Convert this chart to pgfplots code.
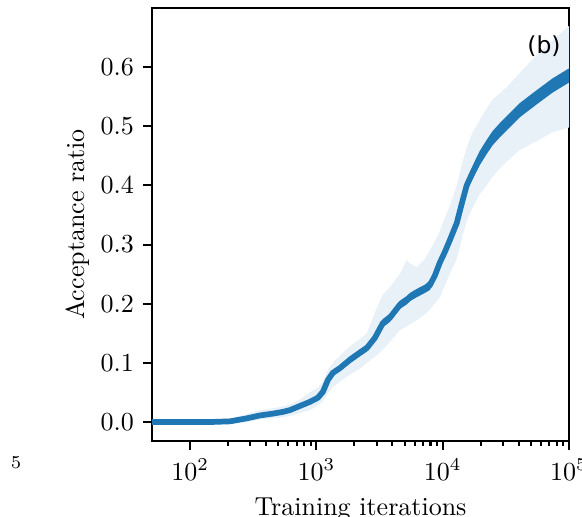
\documentclass[border=0pt]{standalone}
\usepackage{fontspec}
\usepackage{pgfplots}
\usepackage{pgfplotstable}
\pgfplotsset{compat=1.18}
\newfontfamily\dejavu{DejaVu Sans}
\definecolor{tabblue}{HTML}{1F77B4}
\definecolor{bandblue}{HTML}{E8F0F8}

% x, mean, band low, band high, spread of the noisy mean
\pgfplotstableread{
x      m      lo     hi     d
50     0.000 -0.003  0.003  0.001
100    0.000 -0.003  0.003  0.001
150    0.000 -0.003  0.004  0.001
207    0.001 -0.003  0.006  0.001
280    0.006  0.000  0.013  0.001
357    0.011  0.004  0.020  0.001
450    0.014  0.006  0.023  0.001
543    0.017  0.008  0.026  0.001
617    0.020  0.010  0.030  0.001
740    0.027  0.015  0.038  0.002
889    0.034  0.020  0.050  0.002
1028   0.041  0.028  0.058  0.003
1126   0.051  0.035  0.068  0.003
1233   0.071  0.048  0.088  0.004
1350   0.083  0.059  0.100  0.005
1534   0.091  0.068  0.112  0.005
1840   0.105  0.080  0.128  0.006
2208   0.117  0.090  0.140  0.006
2507   0.125  0.100  0.150  0.006
2900   0.142  0.110  0.185  0.006
3355   0.167  0.122  0.215  0.007
3811   0.176  0.135  0.228  0.007
4573   0.198  0.155  0.250  0.007
5200   0.206  0.162  0.274  0.007
5485   0.211  0.165  0.268  0.007
6230   0.218  0.172  0.262  0.007
7206   0.225  0.182  0.275  0.007
7894   0.231  0.190  0.290  0.008
8647   0.247  0.200  0.305  0.008
9470   0.269  0.211  0.322  0.008
10370  0.287  0.230  0.345  0.008
11360  0.307  0.250  0.365  0.009
12900  0.336  0.275  0.400  0.009
14390  0.375  0.315  0.440  0.010
15480  0.400  0.340  0.465  0.010
17270  0.422  0.362  0.490  0.011
19610  0.446  0.385  0.510  0.012
22280  0.465  0.400  0.530  0.012
24850  0.480  0.415  0.545  0.012
28220  0.493  0.428  0.556  0.012
32050  0.505  0.440  0.566  0.012
40620  0.527  0.460  0.590  0.012
55360  0.549  0.475  0.620  0.012
74060  0.569  0.490  0.645  0.012
100000 0.586  0.498  0.670  0.012
}\accdata

\begin{document}
\begin{tikzpicture}
\clip (-58.5pt,-29.2pt) rectangle (165.4pt,169.6pt);
\begin{axis}[
  at={(0,0)}, anchor=south west,
  scale only axis, width=160.4pt, height=166.5pt,
  xmode=log, xmin=50, xmax=1e5,
  ymin=-0.032, ymax=0.70,
  xtick={100,1000,10000,100000},
  ytick={0,0.1,0.2,0.3,0.4,0.5,0.6},
  yticklabel style={/pgf/number format/.cd, fixed, fixed zerofill, precision=1},
  tick pos=left, tick align=outside,
  major tick length=3.5pt, minor tick length=2pt,
  tick style={black, line width=0.8pt},
  axis line style={line width=0.8pt},
  xlabel={Training iterations},
  ylabel={Acceptance ratio},
  ylabel style={yshift=-2.5pt},
]
% light band: stack lo, then hi-lo filled
\addplot[draw=none, stack plots=y, forget plot] table[x=x, y=lo] {\accdata};
\addplot[fill=bandblue, draw=none, stack plots=y, forget plot]
  table[x=x, y expr=\thisrow{hi}-\thisrow{lo}] {\accdata} \closedcycle;
% dark band: move stack down to m-d, then 2d filled
\addplot[draw=none, stack plots=y, forget plot]
  table[x=x, y expr=\thisrow{m}-\thisrow{d}-\thisrow{hi}] {\accdata};
\addplot[fill=tabblue, draw=none, stack plots=y, forget plot]
  table[x=x, y expr=2*\thisrow{d}] {\accdata} \closedcycle;

\addplot[tabblue, line width=2.2pt, stack plots=false] table[x=x, y=m] {\accdata};

\node[font=\dejavu\fontsize{9}{10}\selectfont] at (rel axis cs:0.94,0.912) {(b)};
\end{axis}
\node[font=\fontsize{7}{8}\selectfont] at (-52.3pt,-8.5pt) {5};
\end{tikzpicture}
\end{document}
